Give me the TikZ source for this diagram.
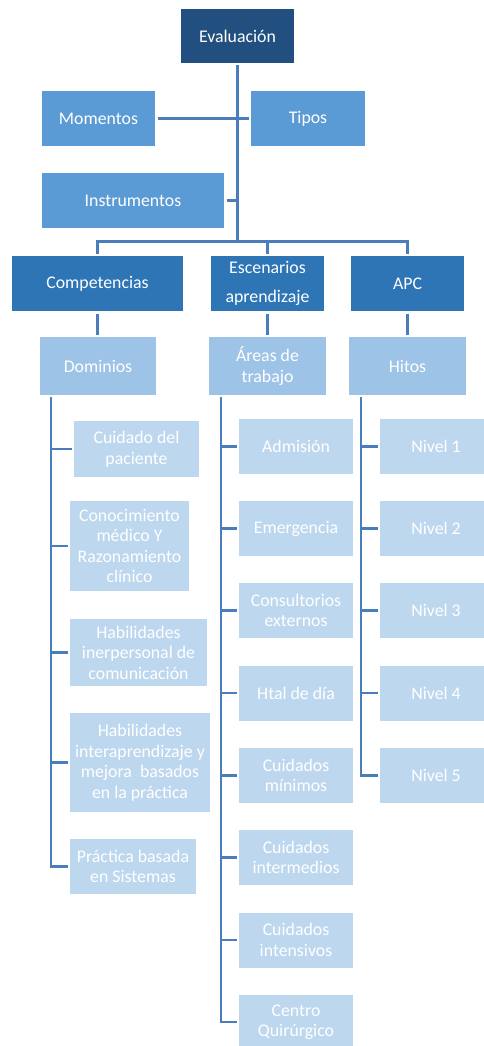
\documentclass[tikz,border=0pt]{standalone}
\usepackage{fontspec}
\setmainfont{Carlito}
\definecolor{topblue}{RGB}{33,80,128}
\definecolor{midblue}{RGB}{91,155,213}
\definecolor{grpblue}{RGB}{46,117,182}
\definecolor{subblue}{RGB}{157,195,230}
\definecolor{leafblue}{RGB}{189,215,238}
\definecolor{wireblue}{RGB}{74,126,187}
\tikzset{
  box/.style={rectangle, inner sep=0pt, outer sep=2.5pt, align=center, text=white,
    font=\fontsize{17.8}{20.5}\selectfont},
  topbox/.style={box, fill=topblue},
  midbox/.style={box, fill=midblue},
  grpbox/.style={box, fill=grpblue},
  subbox/.style={box, fill=subblue},
  leafbox/.style={box, fill=leafblue},
  wire/.style={draw=wireblue, line width=2.6pt},
}
\begin{document}
\begin{tikzpicture}[x=1pt,y=-1pt]
\useasboundingbox (0.000000,0.000000) rectangle (484.000000,1046.000000);
% Drawing boxes
% Row 0: Evaluacion
\node[topbox, minimum width=113pt, minimum height=54pt] (eval) at (237.500000,36.000000) {Evaluación};
% Row 1: Momentos Tipos Instrumentos
\node[midbox, minimum width=113pt, minimum height=55pt] (mom) at (98.500000,118.500000) {Momentos};
\node[midbox, minimum width=114pt, minimum height=55pt] (tipos) at (308.000000,118.500000) {Tipos};
\node[midbox, minimum width=182pt, minimum height=55pt] (inst) at (133.000000,200.500000) {Instrumentos};
% Row 2: Competencias Escenarios APC
\node[grpbox, minimum width=171pt, minimum height=55pt] (comp) at (97.500000,283.500000) {Competencias};
\node[grpbox, minimum width=113pt, minimum height=55pt] (esc) at (267.500000,283.500000) {Escenarios\\[8pt]aprendizaje};
\node[grpbox, minimum width=113pt, minimum height=55pt] (apc) at (407.500000,283.500000) {APC};
% Row 3: Dominios Areas Hitos
\node[subbox, minimum width=116pt, minimum height=58pt] (dom) at (98.000000,366.000000) {Dominios};
\node[subbox, minimum width=117pt, minimum height=58pt] (areas) at (267.500000,366.000000) {Áreas de\\trabajo};
\node[subbox, minimum width=117pt, minimum height=58pt] (hitos) at (407.500000,366.000000) {Hitos};
% Column 1: dominios
\node[leafbox, minimum width=125pt, minimum height=56pt] (dom1) at (136.500000,449.000000) {Cuidado del\\paciente};
\node[leafbox, minimum width=119pt, minimum height=90pt] (dom2) at (129.500000,546.000000) {Conocimiento\\médico Y\\Razonamiento\\clínico};
\node[leafbox, minimum width=137pt, minimum height=67pt] (dom3) at (138.500000,652.500000) {Habilidades\\inerpersonal de\\comunicación};
\node[leafbox, minimum width=140pt, minimum height=99pt] (dom4) at (140.000000,762.500000) {Habilidades\\interaprendizaje y\\mejora\ \ basados\\en la práctica};
\node[leafbox, minimum width=126pt, minimum height=55pt] (dom5) at (133.000000,866.500000) {Práctica basada\\en Sistemas};
% Column 2: areas de trabajo
\node[leafbox, minimum width=114pt, minimum height=55pt] (area1) at (296.000000,446.500000) {Admisión};
\node[leafbox, minimum width=114pt, minimum height=55pt] (area2) at (296.000000,528.500000) {Emergencia};
\node[leafbox, minimum width=114pt, minimum height=55pt] (area3) at (296.000000,610.500000) {Consultorios\\externos};
\node[leafbox, minimum width=114pt, minimum height=55pt] (area4) at (296.000000,693.000000) {Htal de día};
\node[leafbox, minimum width=114pt, minimum height=55pt] (area5) at (296.000000,775.500000) {Cuidados\\mínimos};
\node[leafbox, minimum width=114pt, minimum height=55pt] (area6) at (296.000000,857.500000) {Cuidados\\intermedios};
\node[leafbox, minimum width=114pt, minimum height=55pt] (area7) at (296.000000,940.000000) {Cuidados\\intensivos};
\node[leafbox, minimum width=114pt, minimum height=55pt] (area8) at (296.000000,1022.000000) {Centro\\Quirúrgico};
% Column 3: hitos
\node[leafbox, minimum width=112pt, minimum height=55pt] (hito1) at (436.000000,446.500000) {Nivel 1};
\node[leafbox, minimum width=112pt, minimum height=55pt] (hito2) at (436.000000,528.500000) {Nivel 2};
\node[leafbox, minimum width=112pt, minimum height=55pt] (hito3) at (436.000000,610.500000) {Nivel 3};
\node[leafbox, minimum width=112pt, minimum height=55pt] (hito4) at (436.000000,693.000000) {Nivel 4};
\node[leafbox, minimum width=112pt, minimum height=55pt] (hito5) at (436.000000,775.500000) {Nivel 5};
% Done with boxes; drawing connectors
\coordinate (hub) at (237.500000,241.500000);
\coordinate (spineA) at (51.000000,397.000000);
\coordinate (spineB) at (221.000000,397.000000);
\coordinate (spineC) at (361.000000,397.000000);
% Trunk and first row
\draw[wire] (eval.south) -- (hub);
\draw[wire] (mom.east) -- (tipos.west);
\draw[wire] (inst.east) -- (inst.east -| hub);
% Bar over second row
\draw[wire] (comp.north) |- (hub) -| (apc.north);
\draw[wire] (esc.north) -- (esc.north |- hub);
% Second row to third row
\draw[wire] (comp.south) -- (dom.north -| comp.south);
\draw[wire] (esc.south) -- (areas.north -| esc.south);
\draw[wire] (apc.south) -- (hitos.north -| apc.south);
% Spines and leaves
\draw[wire] (spineA) |- (dom5.west);
\foreach \leaf in {dom1,dom2,dom3,dom4}
  \draw[wire] (\leaf.west -| spineA) -- (\leaf.west);
\draw[wire] (spineB) |- (area8.west);
\foreach \leaf in {area1,area2,area3,area4,area5,area6,area7}
  \draw[wire] (\leaf.west -| spineB) -- (\leaf.west);
\draw[wire] (spineC) |- (hito5.west);
\foreach \leaf in {hito1,hito2,hito3,hito4}
  \draw[wire] (\leaf.west -| spineC) -- (\leaf.west);
% Done with connectors
\end{tikzpicture}
\end{document}
